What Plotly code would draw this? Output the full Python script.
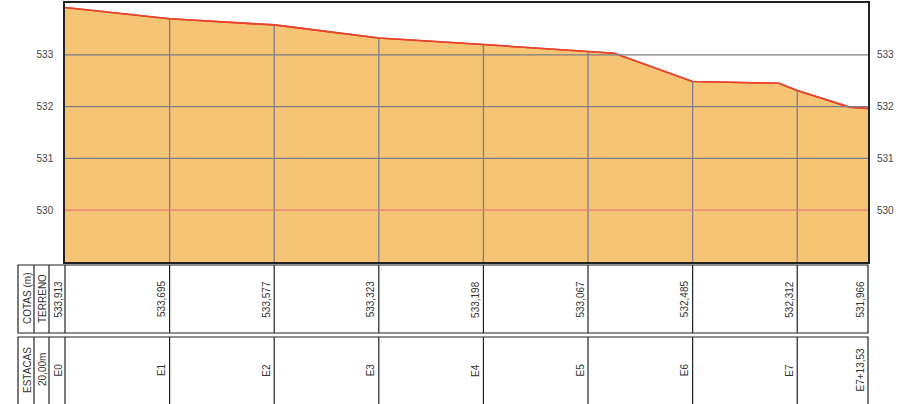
import plotly.graph_objects as go

# perfil do terreno
perfil_dist = [0, 20, 40, 60, 80, 100, 105, 120, 136.5, 140, 150, 153.53]
perfil_cota = [533.913, 533.695, 533.577, 533.323, 533.198, 533.067, 533.03,
               532.485, 532.45, 532.312, 531.99, 531.966]

# estacas da tabela
estacas_dist = [0, 20, 40, 60, 80, 100, 120, 140, 153.53]
estacas_cota = [533.913, 533.695, 533.577, 533.323, 533.198, 533.067, 532.485, 532.312, 531.966]
estacas_nome = ["E0", "E1", "E2", "E3", "E4", "E5", "E6", "E7", "E7+13,53"]
cotas_txt = ["533,913", "533,695", "533,577", "533,323", "533,198", "533,067",
             "532,485", "532,312", "531,966"]

y_ticks = [530, 531, 532, 533]
y_range = [529, 534]

W, H = 914, 404
ML, MR, MT, MB = 65, 46, 3, 142
PW, PH = W - ML - MR, H - MT - MB

FILL = "#f6c475"
LINE_RED = "#e8432c"
GRID = "#7e7e92"
FONT = "Liberation Sans, Arial, sans-serif"
TXT = "#333333"


def py(p):
    # pixel y -> paper y
    return (H - MB - p) / PH


def px(p):
    # pixel x -> paper x
    return (p - ML) / PW


fig = go.Figure()

# terreno preenchido
fig.add_trace(go.Scatter(
    x=perfil_dist, y=perfil_cota, mode="lines",
    line=dict(color=LINE_RED, width=1.6),
    fill="tozeroy", fillcolor=FILL,
    hoverinfo="skip", showlegend=False,
))

# linhas verticais nas estacas, do fundo ate o terreno
vx, vy = [], []
for d, c in zip(estacas_dist[1:-1], estacas_cota[1:-1]):
    vx += [d, d, None]
    vy += [y_range[0], c, None]
fig.add_trace(go.Scatter(
    x=vx, y=vy, mode="lines", line=dict(color=GRID, width=1.3),
    hoverinfo="skip", showlegend=False,
))

# linhas horizontais
shapes = []
for t in y_ticks:
    shapes.append(dict(
        type="line", xref="paper", yref="y", x0=0, x1=1, y0=t, y1=t,
        line=dict(color="#e57a78" if t == 530 else "#7d7d86", width=1.2),
        layer="above",
    ))

# linha do terreno por cima das grades
fig.add_trace(go.Scatter(
    x=perfil_dist, y=perfil_cota, mode="lines",
    line=dict(color=LINE_RED, width=1.6),
    hoverinfo="skip", showlegend=False,
))

# eixo y direito
fig.add_trace(go.Scatter(
    x=[perfil_dist[0]], y=[perfil_cota[0]], yaxis="y2", mode="markers",
    marker=dict(opacity=0), hoverinfo="skip", showlegend=False,
))

# ---- tabela ----
BLK = dict(color="#222222", width=1.2)
row1 = (265, 333)
row2 = (337, 420)
for r0, r1 in (row1, row2):
    shapes.append(dict(type="rect", xref="paper", yref="paper",
                       x0=px(18), x1=1, y0=py(r0), y1=py(r1), line=BLK))
    for hx in (34, 49, 65):
        shapes.append(dict(type="line", xref="paper", yref="paper",
                           x0=px(hx), x1=px(hx), y0=py(r0), y1=py(r1), line=BLK))
    for d in estacas_dist[1:-1]:
        shapes.append(dict(type="line", xref="x", yref="paper",
                           x0=d, x1=d, y0=py(r0), y1=py(r1), line=BLK))

annotations = []
tf = dict(family=FONT, size=10, color=TXT)
c1 = py((row1[0] + row1[1]) / 2)
c2 = py(370)
for lab, cx, cy in (("COTAS (m)", 27, c1), ("TERRENO", 42, c1),
                    ("ESTACAS", 27, c2), ("20,00m", 42, c2)):
    annotations.append(dict(text=lab, xref="paper", yref="paper", x=px(cx), y=cy,
                            textangle=-90, showarrow=False, font=tf,
                            xanchor="center", yanchor="middle"))
annotations.append(dict(text=cotas_txt[0], xref="paper", yref="paper", x=px(57.5), y=c1,
                        textangle=-90, showarrow=False, font=tf,
                        xanchor="center", yanchor="middle"))
annotations.append(dict(text=estacas_nome[0], xref="paper", yref="paper", x=px(57.5), y=c2,
                        textangle=-90, showarrow=False, font=tf,
                        xanchor="center", yanchor="middle"))
for d, ct, nm in zip(estacas_dist[1:], cotas_txt[1:], estacas_nome[1:]):
    annotations.append(dict(text=ct, xref="x", yref="paper", x=d, y=c1, xshift=-1,
                            textangle=-90, showarrow=False, font=tf,
                            xanchor="right", yanchor="middle"))
    annotations.append(dict(text=nm, xref="x", yref="paper", x=d, y=c2, xshift=-1,
                            textangle=-90, showarrow=False, font=tf,
                            xanchor="right", yanchor="middle"))

fig.update_layout(
    width=W, height=H,
    margin=dict(l=ML, r=MR, t=MT, b=MB, autoexpand=False),
    paper_bgcolor="white", plot_bgcolor="white",
    font=dict(family=FONT, size=10, color="#444444"),
    showlegend=False,
    xaxis=dict(range=[0, estacas_dist[-1]], showgrid=False, zeroline=False,
               showticklabels=False, ticks="", showline=True, mirror=True,
               linecolor="#222222", linewidth=1.5, fixedrange=True),
    yaxis=dict(range=y_range, tickvals=y_ticks, showgrid=False, zeroline=False,
               ticks="", ticklabelstandoff=8, showline=True, mirror=True,
               linecolor="#222222", linewidth=1.5, fixedrange=True),
    yaxis2=dict(range=y_range, tickvals=y_ticks, overlaying="y", side="right",
                showgrid=False, zeroline=False, ticks="", ticklabelstandoff=8,
                fixedrange=True),
    shapes=shapes,
    annotations=annotations,
)

# pagina sem margem para o grafico ficar no canto
fig.write_html("out.html", config={"displayModeBar": False},
               post_script="document.body.style.margin='0';")
